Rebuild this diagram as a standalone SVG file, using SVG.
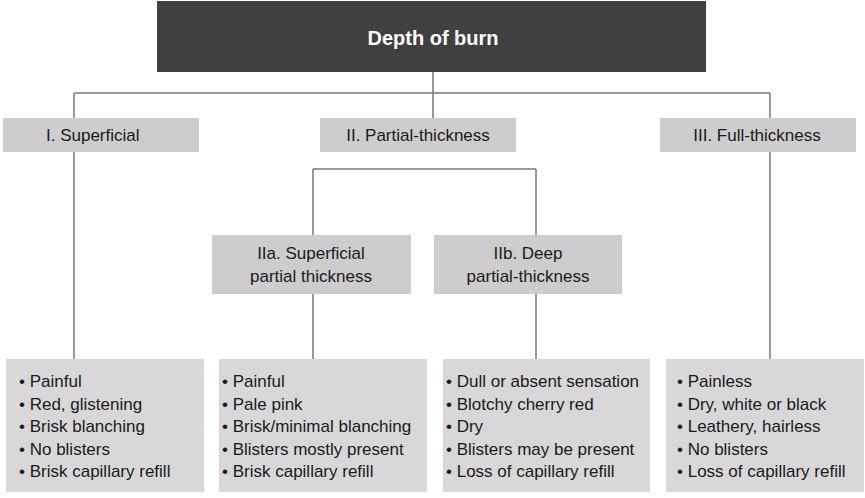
<svg xmlns="http://www.w3.org/2000/svg" width="865" height="498" viewBox="0 0 865 498">
<style>
text{font-family:"Liberation Sans",Arial,sans-serif;font-size:17px;fill:#1a1a1a}
.title{font-weight:bold;font-size:20px;fill:#ffffff}
.l1{fill:#cdcdcd}
.l2{fill:#cdcdcd}
.l3{fill:#d8d8d8}
.c{text-anchor:middle}
#connectors line{stroke:#777777;stroke-width:1.5;fill:none}
</style>
<g id="connectors">
<line x1="433" y1="72" x2="433" y2="118"/>
<line x1="74" y1="93" x2="770" y2="93"/>
<line x1="74" y1="93" x2="74" y2="359"/>
<line x1="770" y1="93" x2="770" y2="359"/>
<line x1="313" y1="169" x2="536" y2="169"/>
<line x1="313" y1="169" x2="313" y2="359"/>
<line x1="536" y1="169" x2="536" y2="359"/>
</g>
<g id="root">
<rect x="157" y="1" width="549" height="71" fill="#404040"/>
<text class="title c" x="433" y="45">Depth of burn</text>
</g>
<g id="superficial">
<rect class="l1" x="3" y="118" width="196" height="34"/>
<text x="46" y="141">I. Superficial</text>
</g>
<g id="partial">
<rect class="l1" x="320" y="118" width="196" height="34"/>
<text class="c" x="418" y="141">II. Partial-thickness</text>
</g>
<g id="full">
<rect class="l1" x="660" y="118" width="196" height="34"/>
<text class="c" x="757" y="141">III. Full-thickness</text>
</g>
<g id="superficial-partial">
<rect class="l2" x="212" y="235" width="199" height="59"/>
<text class="c" x="311" y="259">IIa. Superficial</text>
<text class="c" x="311" y="282">partial thickness</text>
</g>
<g id="deep-partial">
<rect class="l2" x="434" y="235" width="188" height="59"/>
<text class="c" x="528" y="259">IIb. Deep</text>
<text class="c" x="528" y="282">partial-thickness</text>
</g>
<g id="superficial-features">
<rect class="l3" x="6" y="359" width="198" height="133"/>
<text x="19" y="387">• Painful</text>
<text x="19" y="409.5">• Red, glistening</text>
<text x="19" y="432">• Brisk blanching</text>
<text x="19" y="454.5">• No blisters</text>
<text x="19" y="477">• Brisk capillary refill</text>
</g>
<g id="superficial-partial-features">
<rect class="l3" x="219" y="359" width="208" height="133"/>
<text x="222" y="387">• Painful</text>
<text x="222" y="409.5">• Pale pink</text>
<text x="222" y="432">• Brisk/minimal blanching</text>
<text x="222" y="454.5">• Blisters mostly present</text>
<text x="222" y="477">• Brisk capillary refill</text>
</g>
<g id="deep-partial-features">
<rect class="l3" x="443" y="359" width="207" height="133"/>
<text x="446" y="387">• Dull or absent sensation</text>
<text x="446" y="409.5">• Blotchy cherry red</text>
<text x="446" y="432">• Dry</text>
<text x="446" y="454.5">• Blisters may be present</text>
<text x="446" y="477">• Loss of capillary refill</text>
</g>
<g id="full-features">
<rect class="l3" x="666" y="359" width="198" height="133"/>
<text x="677" y="387">• Painless</text>
<text x="677" y="409.5">• Dry, white or black</text>
<text x="677" y="432">• Leathery, hairless</text>
<text x="677" y="454.5">• No blisters</text>
<text x="677" y="477">• Loss of capillary refill</text>
</g>
</svg>
